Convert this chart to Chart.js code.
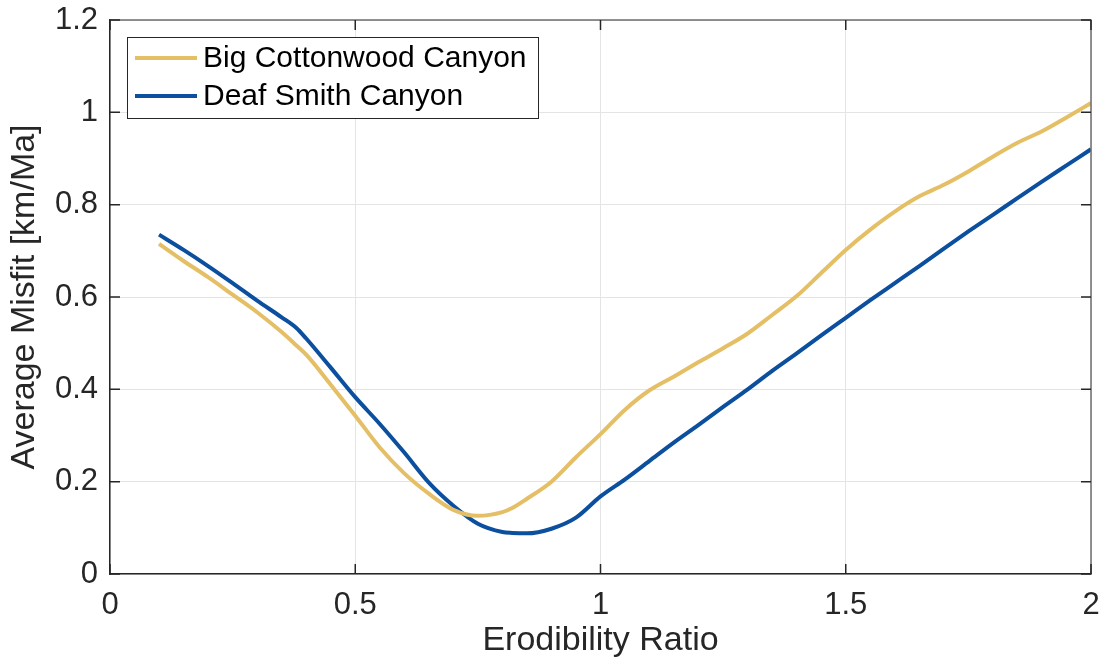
<!DOCTYPE html>
<html>
<head>
<meta charset="utf-8">
<script src="https://cdn.jsdelivr.net/npm/chart.js@4.4.1/dist/chart.umd.min.js"></script>
<style>
  html, body { margin: 0; padding: 0; background: #ffffff; }
  #wrap { width: 1102px; height: 669px; position: relative; }
</style>
</head>
<body>
<div id="wrap"><canvas id="c" width="1102" height="669"></canvas></div>
<script>
// Erodibility ratio sample positions
const erodibilityRatio = [0.10, 0.15, 0.20, 0.25, 0.30, 0.35, 0.38, 0.40, 0.45, 0.50, 0.55, 0.60, 0.65, 0.70, 0.75, 0.80, 0.82, 0.85, 0.90, 0.95, 1.00, 1.05, 1.10, 1.15, 1.20, 1.25, 1.30, 1.35, 1.40, 1.45, 1.50, 1.55, 1.60, 1.65, 1.70, 1.75, 1.80, 1.85, 1.90, 1.95, 2.00];

// Average misfit [km/Ma] per canyon
const bigCottonwood = [0.715, 0.678, 0.643, 0.605, 0.567, 0.524, 0.495, 0.475, 0.41, 0.343, 0.274, 0.218, 0.174, 0.139, 0.126, 0.134, 0.143, 0.163, 0.2, 0.253, 0.303, 0.356, 0.398, 0.428, 0.459, 0.489, 0.521, 0.561, 0.602, 0.652, 0.702, 0.746, 0.785, 0.818, 0.843, 0.872, 0.904, 0.934, 0.959, 0.989, 1.02];
const deafSmith = [0.735, 0.702, 0.667, 0.63, 0.592, 0.556, 0.533, 0.51, 0.447, 0.383, 0.325, 0.263, 0.198, 0.148, 0.109, 0.091, 0.089, 0.088, 0.098, 0.122, 0.168, 0.205, 0.245, 0.285, 0.323, 0.362, 0.4, 0.44, 0.478, 0.517, 0.555, 0.593, 0.63, 0.667, 0.705, 0.742, 0.778, 0.814, 0.85, 0.885, 0.92];

const seriesNames = ['Big Cottonwood Canyon', 'Deaf Smith Canyon'];
const xTicks = [0, 0.5, 1, 1.5, 2];
const yTicks = [0, 0.2, 0.4, 0.6, 0.8, 1, 1.2];

const GOLD = '#E5BF66';
const BLUE = '#0B4F9E';
const AXIS = '#262626';
const FONT = '"Liberation Sans", Arial, Helvetica, sans-serif';

function pts(ys) { return erodibilityRatio.map((x, i) => ({ x: x, y: ys[i] })); }

// Inward tick marks on all four sides, box edges and the inset legend
const boxPlugin = {
  id: 'boxPlugin',
  afterDraw(chart) {
    const { ctx, chartArea: a, scales } = chart;
    const xs = scales.x, ys = scales.y;
    ctx.save();
    // top and right box edges
    ctx.strokeStyle = '#6e6e6e';
    ctx.lineWidth = 1.5;
    ctx.beginPath();
    ctx.moveTo(a.left, a.top); ctx.lineTo(a.right, a.top); ctx.lineTo(a.right, a.bottom);
    ctx.stroke();
    // ticks
    const tl = 10;
    ctx.strokeStyle = AXIS;
    ctx.lineWidth = 1.5;
    ctx.beginPath();
    xTicks.forEach(v => {
      const px = xs.getPixelForValue(v);
      ctx.moveTo(px, a.bottom); ctx.lineTo(px, a.bottom - tl);
      ctx.moveTo(px, a.top); ctx.lineTo(px, a.top + tl);
    });
    yTicks.forEach(v => {
      const py = ys.getPixelForValue(v);
      ctx.moveTo(a.left, py); ctx.lineTo(a.left + tl, py);
      ctx.moveTo(a.right, py); ctx.lineTo(a.right - tl, py);
    });
    ctx.stroke();
    // legend
    const lx = 127, ly = 37, lw = 411, lh = 81;
    ctx.fillStyle = '#ffffff';
    ctx.fillRect(lx, ly, lw, lh);
    ctx.strokeStyle = '#262626';
    ctx.lineWidth = 1;
    ctx.strokeRect(lx + 0.5, ly + 0.5, lw, lh);
    ctx.font = '30px ' + FONT;
    ctx.textBaseline = 'middle';
    ctx.textAlign = 'left';
    chart.data.datasets.forEach((ds, i) => {
      const cy = ly + 21 + i * 38;
      ctx.strokeStyle = ds.borderColor;
      ctx.lineWidth = 4;
      ctx.beginPath();
      ctx.moveTo(135, cy); ctx.lineTo(197, cy);
      ctx.stroke();
      ctx.fillStyle = '#000000';
      ctx.fillText(ds.label, 203, cy + 1);
    });
    ctx.restore();
  }
};

new Chart(document.getElementById('c'), {
  type: 'line',
  data: {
    datasets: [
      { label: seriesNames[0], data: pts(bigCottonwood), borderColor: GOLD, backgroundColor: GOLD, borderWidth: 4, pointRadius: 0, cubicInterpolationMode: 'monotone', fill: false },
      { label: seriesNames[1], data: pts(deafSmith), borderColor: BLUE, backgroundColor: BLUE, borderWidth: 4, pointRadius: 0, cubicInterpolationMode: 'monotone', fill: false }
    ]
  },
  options: {
    responsive: false,
    animation: false,
    devicePixelRatio: 1,
    layout: { padding: { left: 0, right: 11, top: 20, bottom: 0 } },
    plugins: { legend: { display: false }, tooltip: { enabled: false } },
    scales: {
      x: {
        type: 'linear', min: 0, max: 2,
        afterBuildTicks(s) { s.ticks = xTicks.map(v => ({ value: v })); },
        afterFit(s) { s.height = 95; s.paddingLeft = 0; s.paddingRight = 0; },
        grid: { color: '#e4e4e4', lineWidth: 1, drawTicks: false },
        border: { display: true, color: AXIS, width: 1.5 },
        ticks: { padding: 13, color: AXIS, font: { family: FONT, size: 31 }, maxRotation: 0, callback: v => String(v) },
        title: { display: true, text: 'Erodibility Ratio', color: AXIS, font: { family: FONT, size: 34 }, padding: { top: 0, bottom: 8 } }
      },
      y: {
        type: 'linear', min: 0, max: 1.2,
        afterBuildTicks(s) { s.ticks = yTicks.map(v => ({ value: v })); },
        afterFit(s) { s.width = 110; s.paddingTop = 0; s.paddingBottom = 0; },
        grid: { color: '#e4e4e4', lineWidth: 1, drawTicks: false },
        border: { display: true, color: AXIS, width: 1.5 },
        ticks: { padding: 12, color: AXIS, font: { family: FONT, size: 31 }, callback: v => String(Math.round(v * 10) / 10) },
        title: { display: true, text: 'Average Misfit [km/Ma]', color: AXIS, font: { family: FONT, size: 34 }, padding: { top: 4, bottom: 0 } }
      }
    }
  },
  plugins: [boxPlugin]
});
</script>
</body>
</html>
